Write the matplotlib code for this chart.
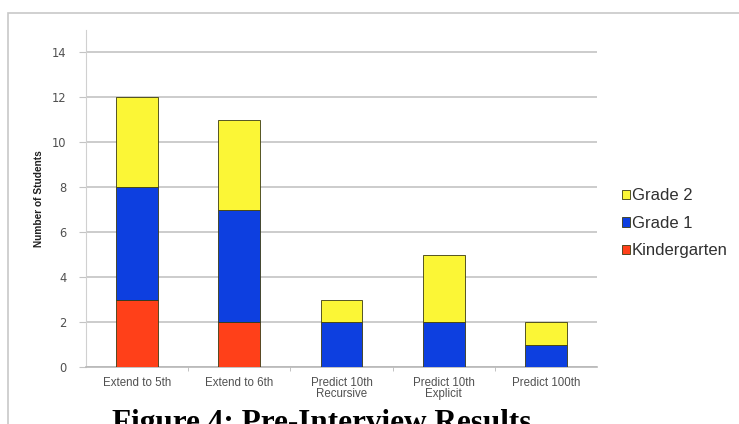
import matplotlib.pyplot as plt
import numpy as np
from matplotlib.patches import Rectangle

# -------------------------
# DATA
# -------------------------
tasks = ["Extend to 5th", "Extend to 6th", "Predict 10th\nRecursive",
         "Predict 10th\nExplicit", "Predict 100th"]
kindergarten = [3, 2, 0, 0, 0]
grade1 = [5, 5, 2, 2, 1]
grade2 = [4, 4, 1, 3, 1]

# -------------------------
# STYLE
# -------------------------
C_K = "#ff4019"
C_G1 = "#0d3fe0"
C_G2 = "#fbf636"
EDGE = "#3a3a10"

fig = plt.figure(figsize=(7.39, 4.24), dpi=100)
fig.patch.set_facecolor("white")

# light frame around the chart
fig.add_artist(Rectangle((8 / 739, -0.05), 1.0, 1 - 13 / 424 + 0.05,
                         transform=fig.transFigure, fill=False,
                         edgecolor="#c8c8c8", linewidth=1.2))

ax = fig.add_axes([86 / 739, 1 - 367 / 424, (597 - 86) / 739, (367 - 29.5) / 424])

x = np.arange(len(tasks))
w = 0.41
b1 = np.array(kindergarten)
b2 = b1 + np.array(grade1)

ax.bar(x, kindergarten, w, color=C_K, edgecolor=EDGE, linewidth=0.6,
       label="Kindergarten", zorder=3)
ax.bar(x, grade1, w, bottom=b1, color=C_G1, edgecolor=EDGE, linewidth=0.6,
       label="Grade 1", zorder=3)
ax.bar(x, grade2, w, bottom=b2, color=C_G2, edgecolor=EDGE, linewidth=0.6,
       label="Grade 2", zorder=3)

ax.set_xlim(-0.5, len(tasks) - 0.5)
ax.set_ylim(0, 15)
ax.set_yticks(range(0, 15, 2))
ax.yaxis.grid(True, color="#c4c4c4", linewidth=1.2, zorder=0)
ax.set_axisbelow(True)

for s in ["top", "right"]:
    ax.spines[s].set_visible(False)
ax.spines["left"].set_color("#d0d0d0")
ax.spines["bottom"].set_color("#b8b8b8")
ax.spines["bottom"].set_linewidth(1.2)

ax.set_xticks(x)
ax.set_xticklabels(tasks, fontsize=8.3, color="#505050", family="Liberation Sans",
                   linespacing=0.95)
ax.set_xticks(np.arange(0.5, len(tasks) - 0.5), minor=True)
ax.tick_params(axis="x", which="major", length=0, pad=7)
ax.tick_params(axis="x", which="minor", length=3, color="#b8b8b8")
ax.tick_params(axis="y", length=5, color="#c4c4c4", labelsize=8.3,
               labelcolor="#505050", pad=9)

ax.set_ylabel("Number of Students", fontsize=7.3, fontweight="bold",
              family="Liberation Sans", color="#202020")
ax.yaxis.set_label_coords(-0.083, 0.5)

handles, labels = ax.get_legend_handles_labels()
fig.legend(handles[::-1], labels[::-1], loc="center left",
           bbox_to_anchor=(607 / 739, 1 - 223.5 / 424), frameon=False,
           handlelength=0.45, handleheight=0.5, handletextpad=0.15,
           labelspacing=0.75, prop={"family": "Liberation Sans", "size": 12},
           labelcolor="#303030")

fig.text(322 / 739, 1 - 409 / 424, "Figure 4: Pre-Interview Results",
         ha="center", va="top", fontsize=22.5, fontweight="bold",
         family="Liberation Serif", color="black")

fig.savefig("out.png", dpi=100)
